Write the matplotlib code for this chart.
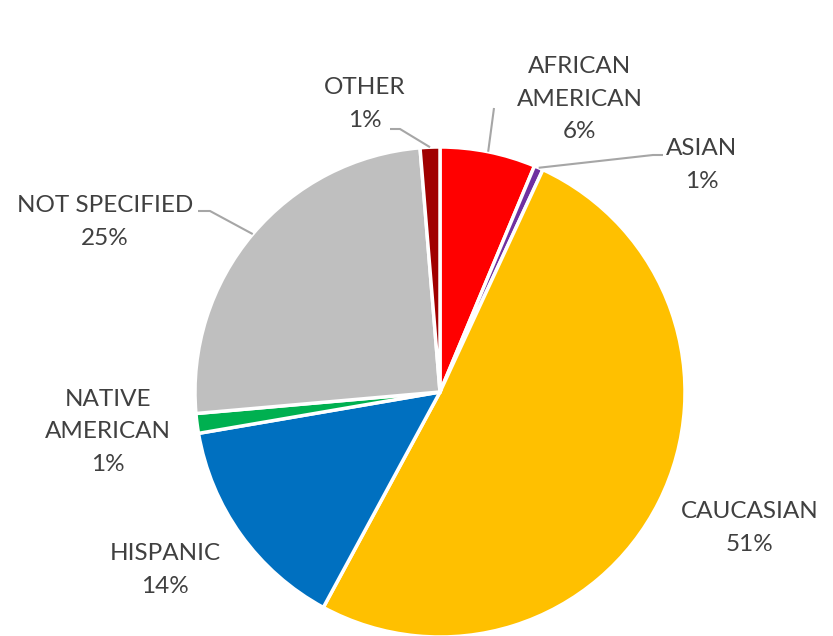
import numpy as np
import matplotlib
matplotlib.use("Agg")
import matplotlib.pyplot as plt

plt.rcParams['font.family'] = ['Lato', 'DejaVu Sans']

# Share of each group (percent), clockwise from 12 o'clock
categories = ["AFRICAN\nAMERICAN", "ASIAN", "CAUCASIAN", "HISPANIC",
              "NATIVE\nAMERICAN", "NOT SPECIFIED", "OTHER"]
values = [6.3, 0.6, 51.0, 14.4, 1.3, 25.1, 1.3]
colors = ["#FF0000", "#7030A0", "#FFC000", "#0070C0",
          "#00B050", "#BFBFBF", "#A00000"]

W, H = 833, 636
fig = plt.figure(figsize=(W / 100, H / 100), dpi=100)
ax = fig.add_axes([0, 0, 1, 1])

cx, cy, R = 440, H - 392, 245
wedges, _ = ax.pie(values, colors=colors, startangle=90, counterclock=False,
                   center=(cx, cy), radius=R, frame=True,
                   wedgeprops=dict(edgecolor='white', linewidth=2.5))
ax.set_xlim(0, W)
ax.set_ylim(0, H)
ax.set_aspect('equal')
ax.axis('off')

# label centres (pixels, top-origin) and leader-line elbows
label_pos = {
    "AFRICAN\nAMERICAN": (580, 99),
    "ASIAN": (702, 165),
    "CAUCASIAN": (750, 528),
    "HISPANIC": (165, 570),
    "NATIVE\nAMERICAN": (108, 432),
    "NOT SPECIFIED": (105, 222),
    "OTHER": (365, 104),
}
leaders = {
    "AFRICAN\nAMERICAN": [(494, 108)],
    "ASIAN": [(653, 155), (663, 155)],
    "NOT SPECIFIED": [(210, 211), (198, 211)],
    "OTHER": [(400, 129), (390, 129)],
}

total = sum(values)
cum = 0.0
for cat, v in zip(categories, values):
    mid = (cum + v / 2) / total * 360.0
    cum += v
    pct = f"{round(v / total * 100):d}%"
    x, y = label_pos[cat]
    ax.text(x, H - y, f"{cat}\n{pct}", ha='center', va='center',
            fontsize=17.5, color='#404040', linespacing=1.65)
    if cat in leaders:
        th = np.deg2rad(mid)
        sx = cx + R * np.sin(th)
        sy = cy + R * np.cos(th)
        pts = [(sx, sy)] + [(px, H - py) for px, py in leaders[cat]]
        xs, ys = zip(*pts)
        ax.plot(xs, ys, color='#A6A6A6', lw=1.5, solid_capstyle='butt')

fig.savefig("out.png", dpi=100)
